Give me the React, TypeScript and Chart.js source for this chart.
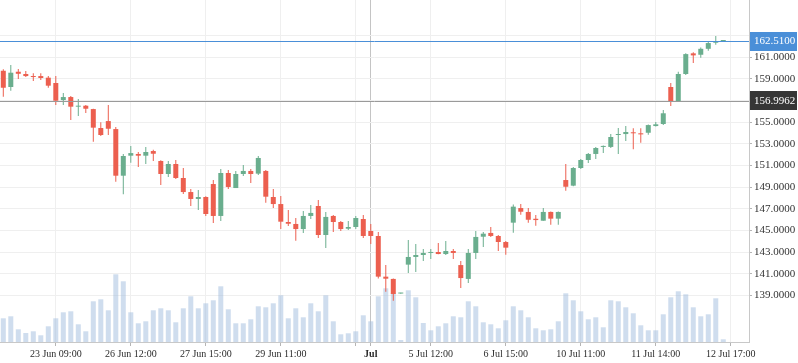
import React, { useEffect, useRef } from 'react';
import { Chart, registerables } from 'chart.js';

Chart.register(...registerables);

const openPrices = [
  159.76, 158.26, 159.67, 159.46, 159.27, 159.27, 159.12, 158.63, 157.05, 157.33,
  156.44, 156.53, 156.22, 154.47, 155.11, 154.37, 150.06, 151.91, 152.07, 151.91,
  152.34, 151.42, 150.22, 151.14, 149.85, 148.55, 147.91, 148.09, 149.29, 146.34,
  150.31, 148.92, 150.22, 150.50, 150.25, 150.50, 148.09, 147.44, 145.78, 145.60,
  145.13, 146.34, 147.26, 144.58, 146.34, 145.78, 145.16, 145.32, 146.06, 144.95,
  144.49, 140.73, 140.52, 139.17, 141.84, 142.55, 142.73, 142.92, 143.01, 142.82,
  143.10, 141.80, 140.52, 142.92, 144.42, 144.77, 144.49, 143.93, 145.72, 147.07,
  146.71, 146.08, 145.90, 146.71, 146.09, 149.66, 149.14, 150.77, 151.51, 152.07,
  152.72, 152.72, 153.82, 153.91, 154.07, 153.98, 154.03, 154.65, 154.84, 158.26,
  156.96, 159.46, 161.37, 161.24, 161.79, 162.35, 162.51,
];
const highPrices = [
  159.90, 160.29, 159.92, 159.73, 159.52, 159.52, 159.27, 159.27, 157.70, 157.42,
  157.15, 156.59, 156.25, 155.00, 156.59, 154.56, 152.07, 152.80, 152.25, 152.72,
  152.46, 151.48, 151.42, 151.51, 150.77, 148.83, 148.74, 148.15, 149.66, 150.68,
  150.59, 150.50, 151.05, 150.68, 151.88, 150.59, 148.83, 148.18, 146.89, 146.15,
  146.80, 147.35, 147.81, 146.71, 146.43, 145.87, 145.87, 146.34, 146.43, 145.60,
  144.86, 141.80, 140.55, 139.22, 144.12, 143.75, 143.29, 143.29, 143.84, 144.03,
  143.29, 142.18, 143.29, 144.95, 144.86, 145.32, 144.58, 144.03, 147.40, 147.44,
  147.07, 146.43, 147.07, 146.75, 146.75, 151.14, 150.86, 151.60, 152.16, 152.72,
  152.85, 153.91, 154.47, 154.65, 154.44, 154.44, 154.80, 155.02, 156.13, 158.63,
  159.67, 161.37, 161.46, 161.92, 162.41, 162.97, 162.51,
];
const lowPrices = [
  157.36, 157.91, 159.00, 159.18, 158.81, 158.90, 158.19, 156.59, 156.59, 155.21,
  155.58, 155.85, 153.20, 153.73, 153.82, 149.50, 148.34, 151.26, 150.86, 151.14,
  151.42, 149.20, 149.94, 149.76, 148.37, 147.26, 146.90, 146.34, 145.69, 145.87,
  148.83, 148.92, 150.03, 149.39, 150.13, 147.57, 147.08, 145.13, 145.41, 144.05,
  144.77, 146.06, 144.30, 143.38, 144.86, 144.95, 145.04, 145.13, 144.30, 143.75,
  140.55, 139.33, 138.50, 139.15, 141.07, 141.16, 142.18, 142.36, 142.80, 142.73,
  142.36, 139.68, 140.14, 142.36, 143.47, 144.40, 143.10, 142.76, 144.79, 146.46,
  145.72, 145.44, 145.90, 145.53, 145.53, 148.67, 149.08, 150.68, 151.23, 151.60,
  152.16, 152.62, 152.07, 153.27, 152.50, 153.11, 153.85, 154.60, 154.74, 156.50,
  156.90, 159.36, 160.47, 160.96, 161.61, 162.16, 162.51,
];
const closePrices = [
  158.19, 159.58, 159.48, 159.27, 159.18, 159.09, 158.38, 156.99, 157.33, 156.44,
  156.50, 156.25, 154.50, 153.82, 154.40, 150.06, 151.88, 152.15, 151.91, 152.25,
  152.09, 150.22, 151.14, 149.85, 148.55, 147.91, 148.09, 146.52, 146.34, 150.31,
  149.02, 150.22, 150.50, 150.22, 151.70, 148.12, 147.44, 145.81, 145.62, 145.13,
  146.34, 146.62, 144.58, 146.25, 145.78, 145.13, 145.32, 146.15, 144.49, 144.49,
  140.73, 140.54, 139.13, 139.20, 142.55, 142.73, 142.92, 143.01, 142.82, 143.10,
  142.92, 140.60, 142.92, 144.40, 144.70, 144.49, 143.93, 143.41, 147.20, 146.73,
  145.99, 145.96, 146.71, 146.09, 146.71, 149.04, 150.77, 151.51, 152.07, 152.62,
  152.81, 153.64, 153.91, 154.10, 153.98, 153.88, 154.74, 154.81, 155.83, 156.96,
  159.46, 161.30, 161.18, 161.79, 162.32, 162.45, 162.51,
];
const volumes = [
  2370, 2570, 1270, 900, 1070, 670, 1570, 2370, 2970, 3070,
  1770, 1070, 4070, 4270, 3170, 6770, 6070, 2970, 1870, 2070,
  3170, 3370, 3170, 1970, 3370, 4570, 3370, 3870, 4170, 5570,
  3270, 1870, 1870, 2270, 3570, 3470, 3870, 4670, 2370, 3370,
  2470, 3870, 3070, 4670, 2070, 770, 870, 1070, 2670, 2070,
  4570, 5370, 4900, 200, 5170, 4470, 1900, 1170, 1570, 1870,
  2570, 2470, 4070, 3570, 1970, 1770, 1370, 2170, 3570, 3170,
  2470, 1370, 1170, 1270, 2070, 4870, 4170, 3070, 2270, 2470,
  1470, 4170, 4070, 3470, 2870, 1670, 1170, 1170, 2770, 4470,
  5070, 4770, 3470, 2570, 2770, 4370, 270,
];

const timeTickIndices = [7, 17, 27, 37, 47, 49, 57, 67, 77, 87, 97];
const timeTickLabels = [
  '23 Jun 09:00', '26 Jun 12:00', '27 Jun 15:00', '29 Jun 11:00', '', 'Jul',
  '5 Jul 12:00', '6 Jul 15:00', '10 Jul 11:00', '11 Jul 14:00', '12 Jul 17:00',
];
const priceTicks = [139, 141, 143, 145, 147, 149, 151, 153, 155, 157, 159, 161, 163];
const hiddenPriceTicks = [163];
const lastPrice = 162.51;
const crosshairPrice = 156.9962;
const crosshairIndex = 49;
const boldTickIndex = 49;

const UP = '#6aae8e';
const DOWN = '#ec5f4f';
const VOL = 'rgba(160,188,222,0.5)';
const FONT = 'Liberation Serif';

const zeroPadding = (s: any) => {
  s.paddingLeft = 0;
  s.paddingRight = 0;
  s.paddingTop = 0;
  s.paddingBottom = 0;
};

const overlayPlugin = {
  id: 'overlay',
  afterDatasetsDraw(chart: any) {
    const { ctx, chartArea, scales } = chart;
    const ys = scales.y;
    ctx.save();
    const yc = Math.round(ys.getPixelForValue(crosshairPrice)) + 0.5;
    ctx.strokeStyle = '#9a9a9a';
    ctx.lineWidth = 1;
    ctx.beginPath();
    ctx.moveTo(chartArea.left, yc);
    ctx.lineTo(chartArea.right, yc);
    ctx.stroke();
    const yl = Math.round(ys.getPixelForValue(lastPrice)) + 0.5;
    ctx.strokeStyle = '#4a8fd8';
    ctx.beginPath();
    ctx.moveTo(chartArea.left, yl);
    ctx.lineTo(chartArea.right, yl);
    ctx.stroke();
    ctx.restore();
  },
  afterDraw(chart: any) {
    const { ctx, chartArea, scales } = chart;
    const ys = scales.y;
    const drawBox = (value: number, bg: string) => {
      const y = ys.getPixelForValue(value);
      const x0 = chartArea.right + 1;
      ctx.fillStyle = bg;
      ctx.fillRect(x0, Math.round(y - 9.5), chart.width - x0 - 1, 19);
      ctx.fillStyle = '#ffffff';
      ctx.font = `11px "${FONT}"`;
      ctx.textBaseline = 'middle';
      ctx.textAlign = 'left';
      ctx.fillText(value.toFixed(4), chartArea.right + 5, y + 0.5);
    };
    ctx.save();
    drawBox(lastPrice, '#4a8fd8');
    drawBox(crosshairPrice, '#363636');
    ctx.restore();
  },
};

export default function App() {
  const canvasRef = useRef<HTMLCanvasElement | null>(null);

  useEffect(() => {
    document.body.style.margin = '0';
    const canvas = canvasRef.current;
    if (!canvas) return;
    const idx = closePrices.map((_, i) => i);
    const colors = idx.map((i) => (closePrices[i] >= openPrices[i] ? UP : DOWN));

    const chart = new Chart(canvas, {
      type: 'bar',
      data: {
        datasets: [
          {
            label: 'body',
            data: idx.map((i) => ({ x: i, y: [openPrices[i], closePrices[i]] })) as any,
            backgroundColor: colors,
            yAxisID: 'y',
            grouped: false,
            categoryPercentage: 1,
            barPercentage: 5 / 7.5,
            minBarLength: 1,
            borderWidth: 0,
            order: 0,
          } as any,
          {
            label: 'wick',
            data: idx.map((i) => ({ x: i, y: [lowPrices[i], highPrices[i]] })) as any,
            backgroundColor: colors,
            yAxisID: 'y',
            grouped: false,
            categoryPercentage: 1,
            barPercentage: 1 / 7.5,
            minBarLength: 1,
            borderWidth: 0,
            order: 1,
          } as any,
          {
            label: 'volume',
            data: idx.map((i) => ({ x: i, y: volumes[i] })) as any,
            backgroundColor: VOL,
            yAxisID: 'yv',
            grouped: false,
            categoryPercentage: 1,
            barPercentage: 5 / 7.5,
            borderWidth: 0,
            order: 2,
          } as any,
        ],
      },
      options: {
        responsive: false,
        animation: false,
        events: [],
        layout: { padding: 0 },
        plugins: { legend: { display: false }, tooltip: { enabled: false } },
        scales: {
          x: {
            type: 'linear',
            offset: false,
            min: -0.44,
            max: 99.43,
            afterBuildTicks: (s: any) => {
              s.ticks = timeTickIndices.map((v) => ({ value: v }));
            },
            afterFit: (s: any) => {
              s.height = 21;
              zeroPadding(s);
            },
            grid: {
              offset: false,
              color: (c: any) => (c.tick && c.tick.value === crosshairIndex ? '#c4c4c4' : '#efefef'),
              tickColor: '#b5b5b5',
              tickLength: 4,
            },
            border: { color: '#c8c8c8' },
            ticks: {
              autoSkip: false,
              maxRotation: 0,
              padding: 2,
              color: '#2b2b2b',
              font: (c: any) => ({
                family: FONT,
                size: 10,
                weight: c.tick && c.tick.value === boldTickIndex ? 'bold' : 'normal',
              }),
              callback: (v: any) => {
                const k = timeTickIndices.indexOf(Number(v));
                return k >= 0 ? timeTickLabels[k] : '';
              },
            },
          } as any,
          y: {
            type: 'linear',
            position: 'right',
            min: 134.69,
            max: 166.3,
            afterBuildTicks: (s: any) => {
              s.ticks = priceTicks.map((v) => ({ value: v }));
            },
            afterFit: (s: any) => {
              s.width = 49;
              zeroPadding(s);
            },
            grid: { color: '#efefef', tickColor: '#b5b5b5', tickLength: 3 },
            border: { color: '#c8c8c8' },
            ticks: {
              padding: 2,
              color: '#333333',
              font: { family: FONT, size: 11 },
              callback: (v: any) => (hiddenPriceTicks.includes(Number(v)) ? '' : Number(v).toFixed(4)),
            },
          } as any,
          yv: {
            type: 'linear',
            display: false,
            min: 0,
            max: 34200,
          } as any,
        },
      },
      plugins: [overlayPlugin],
    });
    return () => chart.destroy();
  }, []);

  return (
    <div style={{ width: 798, height: 363 }}>
      <canvas ref={canvasRef} width={798} height={363} style={{ display: 'block' }} />
    </div>
  );
}
